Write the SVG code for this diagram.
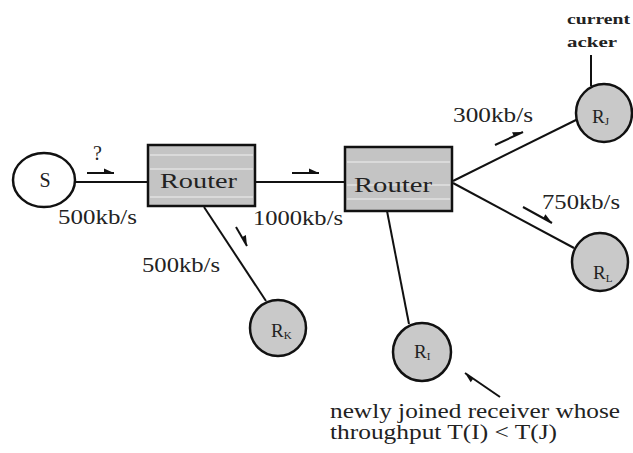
<svg xmlns="http://www.w3.org/2000/svg" width="633" height="453" viewBox="0 0 633 453">
<style>
  text { font-family: "Liberation Serif", "Times New Roman", serif; fill: #222; }
  .lbl { font-size: 20px; }
  .edge { stroke: #111; stroke-width: 2; fill: none; }
  .flow { stroke: #111; stroke-width: 2; fill: none; marker-end: url(#half); }
  .router { fill: #c4c4c4; stroke: #111; stroke-width: 2.5; }
  .stripe { stroke: #e2e2e2; stroke-width: 1.5; }
  .recv { fill: #c9c9c9; stroke: #111; stroke-width: 2.5; }
  .src { fill: #ffffff; stroke: #111; stroke-width: 2.5; }
</style>
<defs>
  <marker id="half" markerUnits="userSpaceOnUse" markerWidth="14" markerHeight="14" refX="11" refY="7" orient="auto" viewBox="0 0 14 14">
    <path d="M11,7 L1,2.5 L1,7 Z" fill="#111"/>
  </marker>
</defs>
<rect width="633" height="453" fill="#ffffff"/>

<g id="connectors">
  <line class="edge" x1="75" y1="182" x2="148" y2="182"/>
  <line class="edge" x1="255" y1="182" x2="345" y2="182"/>
  <line class="edge" x1="204" y1="207" x2="266" y2="301"/>
  <line class="edge" x1="387" y1="211" x2="409" y2="324"/>
  <line class="edge" x1="453" y1="181" x2="578" y2="119"/>
  <line class="edge" x1="453" y1="183" x2="574" y2="248"/>
  <line class="edge" x1="591" y1="55" x2="591" y2="86"/>
  <line class="flow" x1="87" y1="173" x2="114" y2="173"/>
  <line class="flow" x1="292" y1="173" x2="319" y2="173"/>
  <line class="flow" x1="236" y1="227" x2="247" y2="246"/>
  <line class="flow" x1="495" y1="145" x2="523" y2="132"/>
  <line class="flow" x1="523" y1="207" x2="552" y2="223"/>
  <line class="flow" x1="500" y1="397" x2="465" y2="373"/>
</g>

<g id="node-S">
  <ellipse class="src" cx="44" cy="180" rx="31" ry="27"/>
  <text class="lbl" x="45" y="187" text-anchor="middle" font-size="21">S</text>
</g>

<g id="node-router1">
  <rect class="router" x="148" y="145" width="107" height="61"/>
  <line class="stripe" x1="150" y1="155" x2="253" y2="155"/>
  <line class="stripe" x1="150" y1="169" x2="253" y2="169"/>
  <line class="stripe" x1="150" y1="197" x2="253" y2="197"/>
  <text x="160" y="188" font-size="22" textLength="77" lengthAdjust="spacingAndGlyphs">Router</text>
</g>

<g id="node-router2">
  <rect class="router" x="345" y="147" width="107" height="64"/>
  <line class="stripe" x1="347" y1="162" x2="450" y2="162"/>
  <line class="stripe" x1="347" y1="185" x2="450" y2="185"/>
  <line class="stripe" x1="347" y1="199" x2="450" y2="199"/>
  <text x="354" y="192" font-size="22" textLength="78" lengthAdjust="spacingAndGlyphs">Router</text>
</g>

<g id="node-RK">
  <ellipse class="recv" cx="278" cy="328" rx="28" ry="28"/>
  <text x="271" y="337" font-size="19">R<tspan font-size="11" dy="2">K</tspan></text>
</g>

<g id="node-RJ">
  <ellipse class="recv" cx="604" cy="113" rx="28" ry="29"/>
  <text x="592" y="123" font-size="19">R<tspan font-size="11" dy="2">J</tspan></text>
</g>

<g id="node-RL">
  <ellipse class="recv" cx="600" cy="262" rx="28" ry="29"/>
  <text x="593" y="279" font-size="19">R<tspan font-size="11" dy="3">L</tspan></text>
</g>

<g id="node-RI">
  <ellipse class="recv" cx="422" cy="352" rx="29" ry="29"/>
  <text x="414" y="358" font-size="19">R<tspan font-size="11" dy="2">I</tspan></text>
</g>

<g id="labels">
  <text x="93" y="160" font-size="20">?</text>
  <text class="lbl" x="58" y="224" textLength="79" lengthAdjust="spacingAndGlyphs">500kb/s</text>
  <text class="lbl" x="253" y="225" textLength="90" lengthAdjust="spacingAndGlyphs">1000kb/s</text>
  <text class="lbl" x="142" y="272" textLength="78" lengthAdjust="spacingAndGlyphs">500kb/s</text>
  <text class="lbl" x="453" y="122" textLength="80" lengthAdjust="spacingAndGlyphs">300kb/s</text>
  <text class="lbl" x="542" y="209" textLength="78" lengthAdjust="spacingAndGlyphs">750kb/s</text>
  <text x="567" y="24" font-size="15" font-weight="bold" textLength="63" lengthAdjust="spacingAndGlyphs">current</text>
  <text x="567" y="47" font-size="15" font-weight="bold" textLength="50" lengthAdjust="spacingAndGlyphs">acker</text>
  <text x="330" y="418" font-size="20" textLength="290" lengthAdjust="spacingAndGlyphs">newly joined receiver whose</text>
  <text x="330" y="439" font-size="20" textLength="227" lengthAdjust="spacingAndGlyphs">throughput T(I) &lt; T(J)</text>
</g>
</svg>
